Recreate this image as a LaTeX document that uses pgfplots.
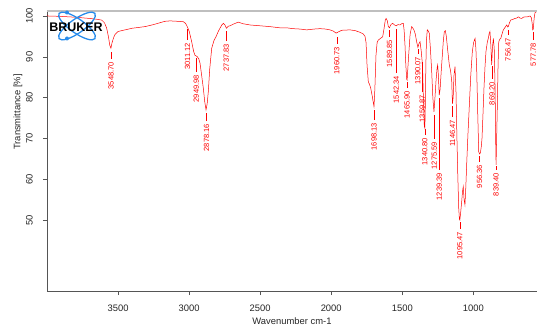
\documentclass[border=0pt]{standalone}
\usepackage{pgfplots}
\pgfplotsset{compat=1.18}
\usepackage{fontspec}
\setmainfont{Liberation Sans}
\definecolor{specred}{RGB}{255,0,0}
\definecolor{axgray}{RGB}{85,85,85}
\definecolor{logoblue}{RGB}{40,140,235}
\newcommand{\pk}[5]{%
  \draw[specred, line width=0.45pt] (axis cs:#1,{100-(#3-16)/4.08}) -- (axis cs:#1,{100-(#4-16)/4.08});
  \node[rotate=90, anchor=east, inner sep=0pt, text=specred, font=\fontsize{7.5}{8}\selectfont] at (axis cs:#1,{100-(#5-16)/4.08}) {#2};
}
\begin{document}
\begin{tikzpicture}
\useasboundingbox (0,0) rectangle (537pt,334pt);
\begin{axis}[
  at={(47pt,43pt)}, anchor=south west,
  scale only axis, width=490pt, height=280.3pt,
  x dir=reverse, xmin=552, xmax=4000, ymin=32.6, ymax=101.3,
  axis x line*=bottom, axis y line*=left,
  axis line style={axgray, line width=0.6pt, -},
  xtick={1000,1500,2000,2500,3000,3500}, ytick={50,60,70,80,90,100},
  tick align=outside, major tick length=4pt,
  tick style={axgray, line width=0.6pt},
  /pgf/number format/assume math mode=true,
  /pgf/number format/1000 sep={},
  xticklabel style={font=\fontsize{9.4}{10}\selectfont, text=black!85, inner sep=0pt, anchor=north, yshift=-10pt},
  yticklabel style={xshift=-10pt, rotate=90, anchor=south, font=\fontsize{9.4}{10}\selectfont, text=black!85, inner sep=0pt},
  xlabel={Wavenumber cm-1}, ylabel={Transmittance [\%]},
  xlabel style={font=\fontsize{9.4}{10}\selectfont, text=black!85, at={(axis description cs:0.5,-0.107)}, anchor=center},
  ylabel style={font=\fontsize{9.4}{10}\selectfont, text=black!85, at={(axis description cs:-0.0592,0.6386)}, anchor=center, rotate=0},
  clip=false,
]
\addplot[specred, line width=0.5pt, mark=none] table {
4000 100.1
3990 100.0
3900 99.9
3800 99.7
3700 99.4
3650 99.2
3615 99.0
3595 98.3
3580 97.0
3568 95.0
3558 92.8
3550 92.1
3542 93.5
3530 94.8
3521 95.5
3500 96.2
3451 96.6
3400 97.0
3310 97.4
3250 97.9
3200 98.4
3170 98.7
3134 98.8
3080 98.7
3041 98.6
3025 98.2
3013 97.4
2999 96.2
2982 93.7
2968 91.3
2959 90.4
2950 90.2
2942 90.0
2932 89.5
2923 88.4
2912 85.5
2900 82.3
2890 79.0
2881 77.0
2873 78.5
2865 81.4
2855 87
2841 92.1
2825 94
2811 94.9
2795 96.2
2783 97.0
2770 97.8
2759 98.2
2748 97.8
2737 97.0
2724 97.5
2712 97.6
2689 98.0
2654 98.5
2620 98.1
2571 97.8
2500 97.6
2431 97.4
2360 97.1
2313 97.1
2269 96.9
2220 96.8
2173 96.6
2120 96.8
2079 96.9
2040 96.8
2009 96.6
1985 96.3
1966 95.8
1950 96.1
1926 96.5
1868 96.6
1830 96.4
1797 96.0
1775 95.6
1762 95.0
1755 93.5
1748 88
1739 83.9
1730 83.2
1722 82.3
1712 80.5
1705 79.0
1699 77.8
1693 82
1685 90.4
1677 93.5
1669 94.1
1650 94.6
1638 94.9
1628 97
1620 98.9
1614 99.4
1606 98.9
1598 97.4
1590 97.1
1582 97.8
1570 98.2
1560 98.0
1551 97.7
1542 97.6
1530 97.9
1516 97.8
1505 98.1
1493 98.2
1487 96.5
1481 92.9
1475 88
1469 84.5
1466 84.3
1462 86.5
1455 90.4
1445 95.5
1434 97.4
1425 97.0
1418 96.6
1408 95.5
1399 93.7
1390 92.3
1383 93.2
1375 93.7
1367 91.5
1361 89.2
1356 86
1351 79
1345 73
1341 72.5
1338 78
1334 88
1330 94
1324 96.6
1317 96.3
1310 95.8
1302 92
1293 86.4
1285 80
1277 76.5
1270 80
1263 83.9
1255 87.3
1251 88
1246 85.5
1240 80.6
1234 82
1225 87
1218 90.4
1211 94
1204 96.2
1197 96.4
1190 95
1180 91.5
1169 88
1160 86.5
1152 84
1147 78.5
1142 80
1136 85.5
1129 87.6
1122 81.4
1116 71
1110 61.8
1103 53
1098 50.2
1095 50.0
1090 51.5
1082 54.5
1076 57
1071 58.2
1065 55
1059 53.7
1053 58
1047 63.5
1038 71
1028 78.2
1018 85.5
1007 91.3
998 93.5
988 94.5
982 92
976 86.4
969 76
962 66.7
956 66.2
950 66.5
944 68
939 70
932 76
925 82.4
918 87.5
911 91.3
902 93.5
895 94.5
888 95.8
883 96.2
877 93
871 88
865 92.5
859 94.5
853 92
847 82.4
843 70
840 63.5
836 70
831 78.2
826 88
821 93.7
814 94.3
807 94.5
798 95.6
789 96.6
777 97.2
765 97.8
758 97.3
754 97.4
746 98.3
737 99.0
720 99.2
707 99.4
695 99.5
683 99.8
672 99.5
660 99.4
648 99.7
636 99.8
620 99.8
601 100.0
592 99.6
586 98.2
582 96.6
578 96.8
572 99.5
566 100.8
554 101.1
};
\draw[gray!50, line width=1.8pt] (rel axis cs:0,1) -- (rel axis cs:1,1);
\pk{3548.70}{3548.70}{52}{59}{62}
\pk{3011.12}{3011.12}{29}{40}{43}
\pk{2949.98}{2949.98}{58}{72}{75}
\pk{2878.16}{2878.16}{113}{121}{124}
\pk{2737.83}{2737.83}{31}{41}{44}
\pk{1960.73}{1960.73}{37}{44}{47}
\pk{1698.13}{1698.13}{110}{120}{123}
\pk{1589.85}{1589.85}{30}{37}{40}
\pk{1542.34}{1542.34}{29}{73}{76}
\pk{1465.90}{1465.90}{82}{88}{91}
\pk{1390.07}{1390.07}{49}{54}{57}
\pk{1359.87}{1359.87}{62}{92}{95}
\pk{1340.80}{1340.80}{129}{135}{138}
\pk{1275.59}{1275.59}{115}{139}{142}
\pk{1239.39}{1239.39}{98}{170}{173}
\pk{1146.47}{1146.47}{106}{117}{120}
\pk{1095.47}{1095.47}{222}{229}{232}
\pk{956.36}{956.36}{156}{162}{165}
\pk{869.20}{869.20}{66}{79}{82}
\pk{839.40}{839.40}{166}{170}{173}
\pk{756.47}{756.47}{30}{35}{38}
\pk{577.78}{577.78}{32}{40}{43}
\end{axis}
\begin{scope}[shift={(77pt,308pt)}]
  \draw[logoblue, line width=1.3pt, rotate=35] (0,0) ellipse (22pt and 7pt);
  \draw[logoblue, line width=1.3pt, rotate=-35] (0,0) ellipse (22pt and 7pt);
  \fill[logoblue] (-10pt,13.5pt) circle (2pt);
  \fill[logoblue] (-10pt,-12.5pt) circle (2pt);
  \node[font=\fontsize{12.5}{12}\selectfont\bfseries, inner sep=0pt] at (-1pt,-1pt) {BRUKER};
\end{scope}
\end{tikzpicture}
\end{document}
